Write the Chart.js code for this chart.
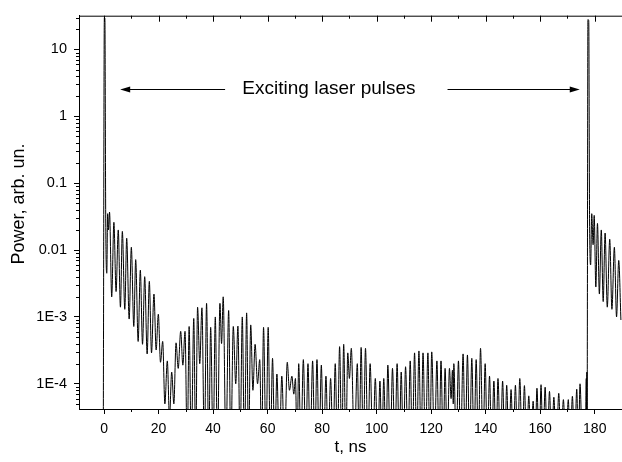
<!DOCTYPE html>
<html lang="en">
<head>
    <meta charset="UTF-8">
    <title>Exciting laser pulses</title>
    <script src="https://cdn.jsdelivr.net/npm/chart.js"></script>
    <style>
        body {
            margin: 0;
            background: #fff;
        }
        canvas {
            display: block;
        }
    </style>
</head>
<body>
    <canvas id="pulseChart" width="622" height="462"></canvas>

    <script>
        // Troughs that go below the plotted range are set to 1e-5 (clipped at the axis).
        const timeNs = [
            // first pulse
            -0.3, 0.1, 0.3, 0.6, 1.0, 1.3, 1.6, 2.0,
            // decaying tail
            2.8, 3.6, 4.4, 5.2, 6.0, 6.7, 7.6, 8.3, 9.2, 10.0, 10.9, 11.6, 12.5, 13.3, 14.1, 14.9, 15.8, 16.6, 17.4, 18.3, 19.1, 19.9,
            20.7, 21.5, 22.3, 23.2, 24.0, 24.8, 25.6, 26.4, 27.2, 28.1, 28.9, 29.7, 30.5, 31.2, 32.0, 32.9, 33.6, 34.3, 35.1, 35.9,
            36.8, 37.6, 38.4, 39.1, 40.0, 40.8, 41.6, 42.5, 43.1, 43.7,
            44.7, 45.7, 46.5, 47.4, 48.3, 49.1, 49.9, 50.7, 51.5, 52.3, 53.0, 53.8, 54.6, 55.4, 56.3, 57.1, 57.8, 58.5, 59.4, 60.2,
            61.0, 61.8, 62.6, 63.4, 64.3, 65.2, 66.2, 67.2, 68.0, 68.9, 69.6, 70.2,
            70.8, 71.4, 72.2, 73.1, 74.0, 74.8, 75.6, 76.5, 77.3, 78.1, 78.9, 79.7, 80.5, 81.4, 82.2, 83.1, 84.0, 84.8,
            85.6, 86.4, 87.2, 87.9, 88.7, 89.4, 90.0, 90.7, 91.8, 92.9, 93.6, 94.3, 95.1, 95.9, 96.8, 97.6, 98.6, 99.5,
            100.4, 101.2, 101.9, 102.6, 103.4, 104.1, 105.0, 105.8, 106.7, 107.5, 108.3, 109.0, 109.8, 110.6, 111.5, 112.3, 113.1, 113.9, 114.7,
            115.5, 116.3, 117.0, 117.9, 118.8, 119.5, 120.2, 121.2, 122.1, 122.9, 123.6, 124.4, 125.1, 125.9, 126.7, 127.3, 127.8, 128.1, 128.3,
            129.2, 130.0, 130.8, 131.7, 132.5, 133.3, 134.1, 134.9, 135.7, 136.5, 137.3, 138.1, 139.0, 139.8, 140.6, 141.4, 142.2, 143.0, 143.8,
            144.5, 145.4, 146.2, 147.0, 147.7, 148.5, 149.3, 150.1, 150.9, 151.7, 152.5, 153.4, 154.2, 155.0, 155.8, 156.6, 157.4, 158.1, 158.8,
            159.6, 160.3, 161.0, 161.8, 162.6, 163.4, 164.2, 165.0, 165.9, 166.8, 167.6, 168.5, 169.4,
            170.3, 171.0, 171.8, 172.6, 173.4, 174.0, 174.6, 175.5, 176.5, 176.9, 177.0, 177.1, 177.2,
            // second pulse
            177.5, 177.8, 178.1, 178.5, 178.9, 179.4, 179.8, 180.4, 181.0, 181.7,
            182.4, 183.1, 183.8, 184.6, 185.5, 186.3, 187.2, 188.0, 188.8, 189.6
        ];

        const power = [
            1e-5, 30, 29, 0.03, 0.0045, 0.035, 0.02, 0.037,
            0.002, 0.026, 0.0024, 0.020, 0.0014, 0.019, 0.0013, 0.015, 9.3e-4, 0.011, 7.2e-4, 0.0072, 4.3e-4, 0.005, 3.9e-4, 0.004, 2.8e-4, 0.0034, 2.9e-4, 0.0022, 3.2e-4, 0.0011,
            2.1e-4, 4.3e-4, 5e-5, 2.2e-4, 3e-5, 1.5e-4, 5e-5, 4.1e-4, 1.7e-4, 6.1e-4, 1.9e-4, 6.1e-4, 1e-5, 7.2e-4, 1e-5, 9.5e-4, 1e-5, 1.4e-3, 2e-4, 1.37e-3,
            1e-5, 1.6e-3, 1e-5, 7e-4, 1e-5, 1.0e-3, 1e-5, 1.6e-3, 4e-4, 2.0e-3,
            1e-5, 1.25e-3, 1e-5, 7.2e-4, 1e-4, 7.3e-4, 1e-5, 1.0e-3, 1e-5, 1.15e-3, 1e-5, 7.6e-4, 8e-5, 3.9e-4, 1e-4, 2.3e-4, 1e-5, 7e-4, 1e-5, 7e-4,
            1e-5, 2.4e-4, 1e-5, 1.4e-4, 1e-5, 1.3e-4, 1e-5, 2.1e-4, 8e-5, 1.3e-4, 7e-5, 1.2e-4,
            1e-5, 2e-4, 1e-5, 2.3e-4, 1e-5, 2e-4, 1e-5, 2.2e-4, 1e-5, 2.3e-4, 1e-5, 1.9e-4, 1e-5, 1.3e-4, 1e-5, 1.2e-4, 1e-5, 2e-4,
            1e-5, 3.6e-4, 1e-5, 3.9e-4, 1e-5, 2.9e-4, 1.2e-4, 3.4e-4, 1e-5, 2e-4, 1e-5, 3.5e-4, 1e-5, 3.4e-4, 1e-5, 2e-4, 1e-5, 1.2e-4,
            1e-5, 1.1e-4, 1e-5, 1.2e-4, 1e-5, 1.9e-4, 1e-5, 1.7e-4, 1e-5, 2e-4, 1e-5, 1.5e-4, 1e-5, 1.8e-4, 1e-5, 2.2e-4, 1e-5, 2.9e-4, 1e-5,
            3.1e-4, 1e-5, 2.9e-4, 1e-5, 2.9e-4, 1e-5, 3e-4, 1e-5, 2.2e-4, 1e-5, 2.2e-4, 1e-5, 1.7e-4, 1e-5, 1.7e-4, 6e-5, 1.6e-4, 5e-5, 2e-4,
            1e-5, 2.2e-4, 1e-5, 2.8e-4, 1e-5, 2.7e-4, 1e-5, 2.4e-4, 1e-5, 2.3e-4, 1e-5, 3.4e-4, 1e-5, 2e-4, 1e-5, 1.3e-4, 1e-5, 1.1e-4, 1e-5,
            1.2e-4, 1e-5, 1.1e-4, 1e-5, 9.5e-5, 1e-5, 8.2e-5, 1e-5, 9.5e-5, 1e-5, 1.2e-4, 1e-5, 9.4e-5, 1e-5, 6.6e-5, 1e-5, 5.5e-5, 1e-5, 8.6e-5,
            1e-5, 9.7e-5, 1e-5, 8.9e-5, 1e-5, 7.7e-5, 1e-5, 6.3e-5, 1e-5, 7.2e-5, 1e-5, 5.8e-5, 1e-5,
            5.8e-5, 1e-5, 6.5e-5, 1e-5, 8.3e-5, 1e-5, 1.0e-4, 1e-5, 1e-5, 1.2e-4, 2e-5, 1.5e-4, 3e-5,
            28, 27, 0.03, 0.006, 0.035, 0.012, 0.033, 0.0028, 0.025, 0.0022,
            0.02, 0.0017, 0.018, 0.0014, 0.0145, 0.0013, 0.011, 0.001, 0.007, 0.0009
        ];

        // axis ticks
        const xTickValues = [0, 20, 40, 60, 80, 100, 120, 140, 160, 180];
        const xMinorValues = [10, 30, 50, 70, 90, 110, 130, 150, 170];
        const yTickValues = [1e-4, 1e-3, 0.01, 0.1, 1, 10];
        const yTickLabels = ['1E-4', '1E-3', '0.01', '0.1', '1', '10'];
        const yTitle = 'Power, arb. un.';

        // annotation: text and two arrows pointing to the pulses (data coordinates)
        const noteText = 'Exciting laser pulses';
        const noteAt = { t: 82.5, p: 2.6 };
        const noteArrows = [
            { from: 44.4, to: 5.9, p: 2.6 },
            { from: 126.0, to: 174.5, p: 2.6 }
        ];

        const FONT = "'Liberation Sans', Arial, sans-serif";

        // minor ticks, top frame, y title, arrows and note
        const decorPlugin = {
            id: 'decor',
            afterDraw(chart) {
                const ctx = chart.ctx;
                const x = chart.scales.x;
                const y = chart.scales.y;
                const area = chart.chartArea;
                ctx.save();
                ctx.strokeStyle = '#000';
                ctx.fillStyle = '#000';
                ctx.lineWidth = 1;

                // top frame line
                ctx.beginPath();
                ctx.moveTo(area.left, area.top + 0.5);
                ctx.lineTo(area.right, area.top + 0.5);
                ctx.stroke();

                ctx.beginPath();
                xMinorValues.forEach(v => {
                    const px = Math.round(x.getPixelForValue(v)) + 0.5;
                    ctx.moveTo(px, area.bottom);
                    ctx.lineTo(px, area.bottom + 3);
                    ctx.moveTo(px, area.top);
                    ctx.lineTo(px, area.top + 3);
                });
                xTickValues.forEach(v => {
                    const px = Math.round(x.getPixelForValue(v)) + 0.5;
                    ctx.moveTo(px, area.top);
                    ctx.lineTo(px, area.top + 6);
                });
                // y minor ticks 2..9 of each decade
                for (let e = -5; e <= 1; e++) {
                    for (let k = 2; k <= 9; k++) {
                        const v = k * Math.pow(10, e);
                        if (v < y.min || v > y.max) continue;
                        const py = Math.round(y.getPixelForValue(v)) + 0.5;
                        ctx.moveTo(area.left, py);
                        ctx.lineTo(area.left - 3, py);
                    }
                }
                ctx.stroke();

                // arrows
                noteArrows.forEach(a => {
                    const x0 = x.getPixelForValue(a.from);
                    const x1 = x.getPixelForValue(a.to);
                    const py = Math.round(y.getPixelForValue(a.p)) + 0.5;
                    const dir = Math.sign(x1 - x0);
                    ctx.beginPath();
                    ctx.moveTo(x0, py);
                    ctx.lineTo(x1 - dir * 6, py);
                    ctx.stroke();
                    ctx.beginPath();
                    ctx.moveTo(x1, py);
                    ctx.lineTo(x1 - dir * 10, py - 3);
                    ctx.lineTo(x1 - dir * 10, py + 3);
                    ctx.closePath();
                    ctx.fill();
                });

                // note text
                ctx.font = '19px ' + FONT;
                ctx.textAlign = 'center';
                ctx.textBaseline = 'middle';
                ctx.fillText(noteText, x.getPixelForValue(noteAt.t), y.getPixelForValue(noteAt.p));

                // y axis title
                ctx.translate(19, 204);
                ctx.rotate(-Math.PI / 2);
                ctx.font = '18px ' + FONT;
                ctx.fillText(yTitle, 0, 0);
                ctx.restore();
            }
        };

        const ctx = document.getElementById('pulseChart').getContext('2d');
        new Chart(ctx, {
            type: 'line',
            data: {
                datasets: [{
                    data: timeNs.map((t, i) => ({ x: t, y: power[i] })),
                    borderColor: '#000',
                    borderWidth: 1,
                    pointRadius: 0,
                    cubicInterpolationMode: 'monotone',
                    fill: false
                }]
            },
            options: {
                responsive: false,
                animation: false,
                layout: { padding: { top: 15, left: 0, right: 0, bottom: 0 } },
                plugins: {
                    legend: { display: false },
                    tooltip: { enabled: false }
                },
                scales: {
                    x: {
                        type: 'linear',
                        min: -9.2,
                        max: 190,
                        afterBuildTicks: s => { s.ticks = xTickValues.map(v => ({ value: v })); },
                        afterFit: s => { s.height = 53; },
                        grid: { drawOnChartArea: false, drawTicks: true, tickLength: 5, color: '#000' },
                        border: { color: '#000', width: 1 },
                        ticks: {
                            color: '#000',
                            font: { family: FONT, size: 14 },
                            padding: 7,
                            maxRotation: 0
                        },
                        title: {
                            display: true,
                            text: 't, ns',
                            color: '#000',
                            font: { family: FONT, size: 17 },
                            padding: { top: 2, bottom: 4 }
                        }
                    },
                    y: {
                        type: 'logarithmic',
                        min: 4.2e-5,
                        max: 32,
                        afterBuildTicks: s => { s.ticks = yTickValues.map(v => ({ value: v })); },
                        afterFit: s => { s.width = 79; },
                        grid: { drawOnChartArea: false, drawTicks: true, tickLength: 5, color: '#000' },
                        border: { color: '#000', width: 1 },
                        ticks: {
                            color: '#000',
                            font: { family: FONT, size: 14.5 },
                            padding: 7,
                            callback: (v, i) => yTickLabels[i]
                        },
                        title: { display: false }
                    }
                }
            },
            plugins: [decorPlugin]
        });
    </script>
</body>
</html>
